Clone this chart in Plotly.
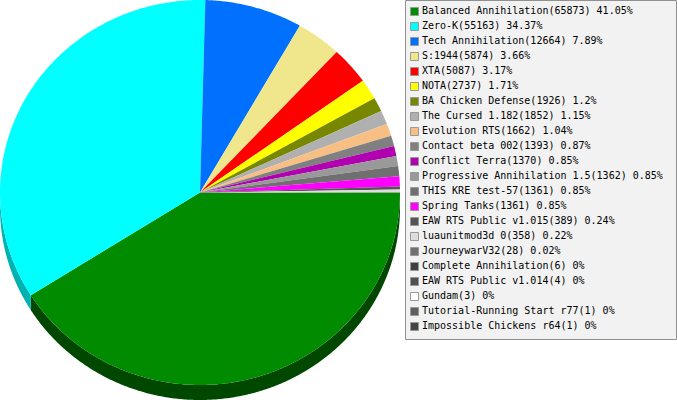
import numpy as np
import plotly.graph_objs as go

# Mods and the number of games played, in legend order
mods = ['Balanced Annihilation', 'Zero-K', 'Tech Annihilation', 'S:1944', 'XTA', 'NOTA',
        'BA Chicken Defense', 'The Cursed 1.182', 'Evolution RTS', 'Contact beta 002',
        'Conflict Terra', 'Progressive Annihilation 1.5', 'THIS KRE test-57', 'Spring Tanks',
        'EAW RTS Public v1.015', 'luaunitmod3d 0', 'JourneywarV32', 'Complete Annihilation',
        'EAW RTS Public v1.014', 'Gundam', 'Tutorial-Running Start r77', 'Impossible Chickens r64']
games = [65873, 55163, 12664, 5874, 5087, 2737, 1926, 1852, 1662, 1393, 1370, 1362, 1361, 1361,
         389, 358, 28, 6, 4, 3, 1, 1]
percents = ['41.05', '34.37', '7.89', '3.66', '3.17', '1.71', '1.2', '1.15', '1.04', '0.87', '0.85',
            '0.85', '0.85', '0.85', '0.24', '0.22', '0.02', '0', '0', '0', '0', '0']
colors = ['#008b00', '#00ffff', '#0070ff', '#f0e68c', '#ff0000', '#ffff00', '#778800', '#b0b0b0',
          '#f8bf85', '#808080', '#b000b0', '#999999', '#707070', '#ff00ff', '#555555', '#dddddd',
          '#707070', '#404040', '#505050', '#ffffff', '#606060', '#444444']
# Only the two lowest slices show a side wall
wall_colors = ['#004800', '#00b2b2']

WIDTH, HEIGHT = 677, 400
RX, RY = 200, 192.5  # pie radii in pixels
DEPTH = 15 / RY      # wall height in pie units
BOX_W, BOX_H = 271, 340  # legend box in pixels

fig = go.Figure()

# Slice edges, clockwise from east
ends = np.cumsum(games) / sum(games) * 2 * np.pi
starts = np.concatenate(([0], ends[:-1]))


def arc(a, b):
    t = np.linspace(a, b, max(int((b - a) * 120), 2))
    return np.cos(t), -np.sin(t)


# Side walls first so that the top face covers them
for i, c in enumerate(wall_colors):
    x, y = arc(starts[i], min(ends[i], np.pi))
    fig.add_trace(go.Scatter(
        x=np.concatenate((x, x[::-1])), y=np.concatenate((y, y[::-1] - DEPTH)),
        mode='none', fill='toself', fillcolor=c, hoverinfo='skip', showlegend=False))

# Top face
for i, m in enumerate(mods):
    x, y = arc(starts[i], ends[i])
    fig.add_trace(go.Scatter(
        x=np.concatenate(([0], x)), y=np.concatenate(([0], y)),
        mode='none', fill='toself', fillcolor=colors[i], name=m, showlegend=False))

# Legend, plotly's own has a minimum row height that is too tall here
rows = np.arange(len(mods))
labels = [f'{m}({g}) {p}%' for m, g, p in zip(mods, games, percents)]
fig.add_trace(go.Scatter(
    x=[9.5] * len(rows), y=rows, mode='markers', xaxis='x2', yaxis='y2', hoverinfo='skip',
    marker=dict(symbol='square', size=8, color=colors, line=dict(color='#999999', width=1)),
    showlegend=False))
fig.add_trace(go.Scatter(
    x=[17] * len(rows), y=rows, mode='text', xaxis='x2', yaxis='y2', text=labels,
    textposition='middle right', hoverinfo='skip', cliponaxis=False,
    textfont=dict(family='DejaVu Sans Mono', size=10, color='#000000'), showlegend=False))

fig.update_layout(
    width=WIDTH, height=HEIGHT, margin=dict(l=0, r=0, t=0, b=0),
    paper_bgcolor='white', plot_bgcolor='rgba(0,0,0,0)',
    xaxis=dict(range=[-1, (WIDTH - RX) / RX], visible=False, fixedrange=True),
    yaxis=dict(range=[1 - HEIGHT / RY, 1], visible=False, fixedrange=True),
    # legend x axis is in pixels from the box edge, y axis counts rows 15 px apart
    xaxis2=dict(domain=[405 / WIDTH, (405 + BOX_W) / WIDTH], range=[0, BOX_W], visible=False,
                anchor='y2', fixedrange=True),
    yaxis2=dict(domain=[1 - BOX_H / HEIGHT, 1], range=[(BOX_H - 11.5) / 15, -11.5 / 15], visible=False,
                anchor='x2', fixedrange=True),
    shapes=[dict(type='rect', xref='paper', yref='paper', x0=405.5 / WIDTH, x1=(405.5 + BOX_W) / WIDTH,
                 y0=(HEIGHT - BOX_H + 0.5) / HEIGHT, y1=1 - 0.5 / HEIGHT, fillcolor='#f2f2f2',
                 line=dict(color='#909090', width=1), layer='below')])

fig.write_html("out.html", post_script="document.body.style.margin='0';",
               config=dict(displayModeBar=False))
